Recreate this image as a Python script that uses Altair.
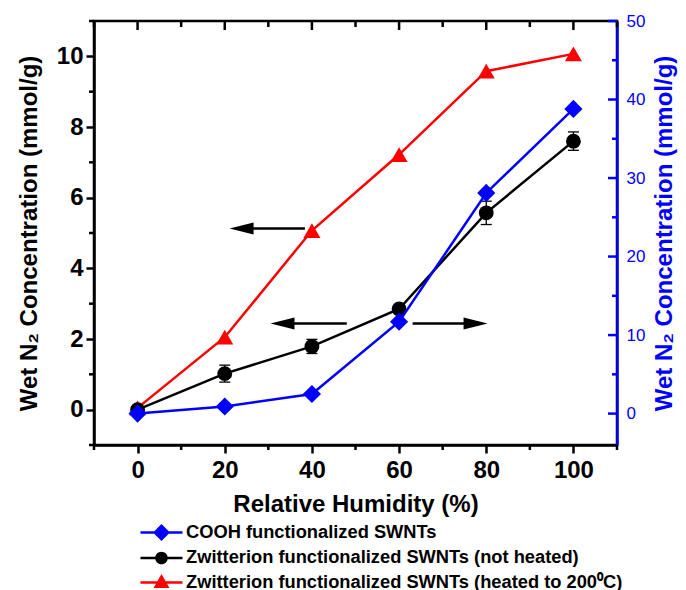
import altair as alt
import pandas as pd

# ---------------- data ----------------
rh = [0, 20, 40, 60, 80, 100]
cooh = [0.0, 0.9, 2.5, 11.7, 28.1, 38.8]                 # right axis
zw_not_heated = [0.0, 1.02, 1.79, 2.85, 5.57, 7.6]       # left axis
zw_not_heated_err = [0.05, 0.24, 0.2, 0.1, 0.33, 0.26]
zw_heated = [0.05, 2.05, 5.07, 7.22, 9.58, 10.07]        # left axis

series_names = [
    "COOH functionalized SWNTs",
    "Zwitterion functionalized SWNTs (not heated)",
    "Zwitterion functionalized SWNTs (heated to 200\u2070C)",
]
series_colors = ["#0000ff", "#000000", "#ff0000"]

x_major = [0, 20, 40, 60, 80, 100]
x_minor = [-10, 10, 30, 50, 70, 90, 110]
yl_major = [0, 2, 4, 6, 8, 10]
yl_minor = [-1, 1, 3, 5, 7, 9, 11]
yr_major = [0, 10, 20, 30, 40, 50]
yr_minor = [5, 15, 25, 35, 45]

arrow_tail_x = [38.4, 48.0, 63.1]
arrow_shaft_end_x = [24.0, 33.4, 77.4]
arrow_tip_x = [21.1, 30.5, 80.3]
arrow_y = [5.13, 2.44, 2.44]
arrow_dir = ["left", "left", "right"]

# ---------------- tables ----------------
heated_df = pd.DataFrame({"rh": rh, "v": zw_heated})
not_heated_df = pd.DataFrame({"rh": rh, "v": zw_not_heated, "err": zw_not_heated_err})
not_heated_df["lo"] = not_heated_df["v"] - not_heated_df["err"]
not_heated_df["hi"] = not_heated_df["v"] + not_heated_df["err"]
cooh_df = pd.DataFrame({"rh": rh, "v": cooh})
arrow_df = pd.DataFrame({"tail": arrow_tail_x, "end": arrow_shaft_end_x,
                         "tip": arrow_tip_x, "y": arrow_y, "dir": arrow_dir})
legend_df = pd.DataFrame({"series": series_names})

FONT = "Liberation Sans, Arial, Helvetica, sans-serif"
W, H = 523, 424
BLUE = "#0000ff"

x_scale = alt.Scale(domain=[-10, 110], nice=False, zero=False)
yl_scale = alt.Scale(domain=[-1, 11], nice=False, zero=False)
yr_scale = alt.Scale(domain=[-4, 50], nice=False, zero=False)

x_axis = alt.Axis(values=x_major, title="Relative Humidity (%)", grid=False, orient="bottom",
                  labelFont=FONT, labelFontSize=24, labelFontWeight="bold", labelColor="black",
                  titleFont=FONT, titleFontSize=24, titleFontWeight="bold", titleColor="black",
                  tickSize=8, tickWidth=2.5, tickColor="black",
                  domainColor="black", domainWidth=2.5, labelPadding=5, titlePadding=10,
                  labelFlush=False)
yl_axis = alt.Axis(values=yl_major, title="Wet N\u2082 Concentration (mmol/g)", orient="left",
                   grid=False, labelFont=FONT, labelFontSize=24, labelFontWeight="bold",
                   labelColor="black", titleFont=FONT, titleFontSize=24, titleFontWeight="bold",
                   titleColor="black", tickSize=8, tickWidth=2.5, tickColor="black",
                   domainColor="black", domainWidth=2.5, labelPadding=3, titlePadding=15,
                   labelFlush=False)
yr_axis = alt.Axis(values=yr_major, title="Wet N\u2082 Concentration (mmol/g)", orient="right",
                   grid=False, ticks=False, tickSize=0,
                   labelFont=FONT, labelFontSize=17, labelFontWeight="normal", labelColor=BLUE,
                   titleFont=FONT, titleFontSize=24, titleFontWeight="bold", titleColor=BLUE,
                   titleAngle=270, titleBaseline="top", domainColor=BLUE, domainWidth=2.5,
                   labelPadding=9, titlePadding=8, labelFlush=False)

def X(field):
    return alt.X(f"{field}:Q", scale=x_scale, axis=x_axis)

def YL(field):
    return alt.Y(f"{field}:Q", scale=yl_scale, axis=yl_axis)

def YR(field):
    return alt.Y(f"{field}:Q", scale=yr_scale, axis=yr_axis)

# ---------------- left-axis layers ----------------
red_line = alt.Chart(heated_df).mark_line(color="#ff0000", strokeWidth=2.5).encode(x=X("rh"), y=YL("v"))
red_pts = alt.Chart(heated_df).mark_point(shape="triangle-up", filled=True, size=290,
                                          color="#ff0000", opacity=1).encode(x=X("rh"), y=YL("v"))
err_rule = alt.Chart(not_heated_df).mark_rule(color="black", strokeWidth=1.3).encode(
    x=X("rh"), y=YL("lo"), y2="hi")
err_cap_lo = alt.Chart(not_heated_df).mark_tick(orient="horizontal", size=11, thickness=1.3,
                                                color="black", opacity=1).encode(x=X("rh"), y=YL("lo"))
err_cap_hi = alt.Chart(not_heated_df).mark_tick(orient="horizontal", size=11, thickness=1.3,
                                                color="black", opacity=1).encode(x=X("rh"), y=YL("hi"))
black_line = alt.Chart(not_heated_df).mark_line(color="black", strokeWidth=2.5).encode(x=X("rh"), y=YL("v"))
black_pts = alt.Chart(not_heated_df).mark_point(shape="circle", filled=True, size=220,
                                                color="black", opacity=1).encode(x=X("rh"), y=YL("v"))

arrow_shaft = alt.Chart(arrow_df).mark_rule(color="black", strokeWidth=2.5).encode(
    x=X("tail"), x2="end", y=YL("y"))
arrow_head_left = alt.Chart(arrow_df).transform_filter(alt.datum.dir == "left").mark_point(
    shape="M0,0L4,-1L4,1Z", filled=True, size=144, color="black", opacity=1).encode(
    x=X("tip"), y=YL("y"))
arrow_head_right = alt.Chart(arrow_df).transform_filter(alt.datum.dir == "right").mark_point(
    shape="M0,0L-4,-1L-4,1Z", filled=True, size=144, color="black", opacity=1).encode(
    x=X("tip"), y=YL("y"))

# frame ticks (minor / inward)
top_major = alt.Chart(pd.DataFrame({"t": x_major})).mark_rule(color="black", strokeWidth=2.5).encode(
    x=X("t"), y=alt.value(0), y2=alt.value(9))
top_minor = alt.Chart(pd.DataFrame({"t": x_minor})).mark_rule(color="black", strokeWidth=2.5).encode(
    x=X("t"), y=alt.value(0), y2=alt.value(6))
bottom_minor = alt.Chart(pd.DataFrame({"t": x_minor})).mark_rule(color="black", strokeWidth=2.5).encode(
    x=X("t"), y=alt.value(H), y2=alt.value(H + 5))
left_minor = alt.Chart(pd.DataFrame({"t": yl_minor})).mark_rule(color="black", strokeWidth=2.5).encode(
    y=YL("t"), x=alt.value(-5), x2=alt.value(0))

# legend symbols: horizontal bar + marker, drawn as one filled path
legend_paths = [
    "M-2,-0.12H2V0.12H-2ZM0,-0.81L0.81,0L0,0.81L-0.81,0Z",
    "M-2,-0.12H2V0.12H-2ZM-0.6,0A0.6,0.6,0,0,1,0.6,0A0.6,0.6,0,0,1,-0.6,0Z",
    "M-2,-0.12H2V0.12H-2ZM0,-0.8L0.76,0.53L-0.76,0.53Z",
]
leg = alt.Legend(orient="none", legendX=57, legendY=501, direction="vertical", title=None,
                 labelFont=FONT, labelFontSize=18.3, labelFontWeight="bold", labelColor="black",
                 labelLimit=600, symbolSize=441, symbolOpacity=1, symbolStrokeWidth=0,
                 labelOffset=14, rowPadding=5.5, padding=0)
legend_layer = alt.Chart(legend_df).mark_point(opacity=0, filled=True).encode(
    x=alt.value(0), y=alt.value(0),
    color=alt.Color("series:N", scale=alt.Scale(domain=series_names, range=series_colors), legend=leg),
    shape=alt.Shape("series:N", scale=alt.Scale(domain=series_names, range=legend_paths), legend=leg),
)

left = alt.layer(red_line, top_major, top_minor, bottom_minor, left_minor,
                 err_rule, err_cap_lo, err_cap_hi, black_line, red_pts, black_pts,
                 arrow_shaft, arrow_head_left, arrow_head_right, legend_layer)

# ---------------- right-axis layers ----------------
blue_line = alt.Chart(cooh_df).mark_line(color=BLUE, strokeWidth=2.5).encode(x=X("rh"), y=YR("v"))
blue_pts = alt.Chart(cooh_df).mark_point(shape="diamond", filled=True, size=330,
                                         color=BLUE, opacity=1).encode(x=X("rh"), y=YR("v"))
right_major = alt.Chart(pd.DataFrame({"t": yr_major})).mark_rule(color=BLUE, strokeWidth=2.5).encode(
    y=YR("t"), x=alt.value(W - 9), x2=alt.value(W))
right_minor = alt.Chart(pd.DataFrame({"t": yr_minor})).mark_rule(color=BLUE, strokeWidth=2.5).encode(
    y=YR("t"), x=alt.value(W - 5), x2=alt.value(W))

right = alt.layer(blue_line, right_major, right_minor, blue_pts)

chart = alt.layer(left, right).resolve_scale(y="independent").properties(
    width=W, height=H,
    padding={"left": 94, "top": 21, "right": 69, "bottom": 145},
    autosize=alt.AutoSizeParams(type="none"),
    background="white",
).configure_view(stroke="black", strokeWidth=2.5)

chart.save("out.html", embed_options={"renderer": "svg", "actions": False})
